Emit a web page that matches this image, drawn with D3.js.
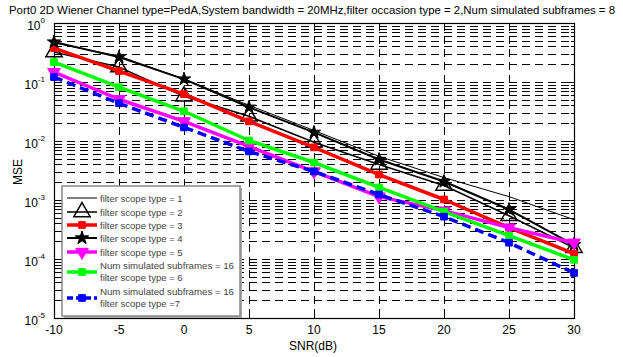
<!DOCTYPE html>
<html lang="en">
<head>
    <meta charset="UTF-8">
    <title>MSE vs SNR</title>
    <script src="https://cdn.jsdelivr.net/npm/d3@7"></script>
    <style>
        body { margin: 0; background: #fff; }
        text { font-family: "Liberation Sans", Arial, sans-serif; }
    </style>
</head>
<body>
<script>
    const snr = [-10, -5, 0, 5, 10, 15, 20, 25, 30]
    const xTicks = [-10, -5, 0, 5, 10, 15, 20, 25, 30]
    const yDecades = [-5, -4, -3, -2, -1, 0]
    const title = 'Port0 2D Wiener Channel type=PedA,System bandwidth = 20MHz,filter occasion type = 2,Num simulated subframes = 8'

    const type1 = [0.46, 0.275, 0.112, 0.0403, 0.0151, 0.0055, 0.0024, 0.00114, 0.000464]
    const type2 = [0.321, 0.179, 0.0574, 0.0262, 0.0095, 0.0040, 0.00176, 0.00054, 0.000155]
    const type3 = [0.376, 0.153, 0.0621, 0.0215, 0.0078, 0.0027, 0.00102, 0.00034, 0.000123]
    const type4 = [0.475, 0.264, 0.112, 0.0373, 0.0140, 0.00486, 0.00206, 0.00069, 0.000174]
    const type5 = [0.147, 0.051, 0.0215, 0.0081, 0.00304, 0.00114, 0.00066, 0.00034, 0.000189]
    const type6 = [0.217, 0.0816, 0.0319, 0.0102, 0.00432, 0.00163, 0.000635, 0.000248, 0.000097]
    const type7 = [0.121, 0.0436, 0.017, 0.00666, 0.00304, 0.00124, 0.000522, 0.000189, 0.000058]

    const series = [
        {name: ['filter scope type = 1'], values: type1, color: '#000', width: 1, dash: null, marker: null},
        {name: ['filter scope type = 2'], values: type2, color: '#000', width: 1.5, dash: null, marker: 'triUp'},
        {name: ['filter scope type = 3'], values: type3, color: '#ff0000', width: 3.5, dash: null, marker: 'square'},
        {name: ['filter scope type = 4'], values: type4, color: '#000', width: 2, dash: null, marker: 'star'},
        {name: ['filter scope type = 5'], values: type5, color: '#ff00ff', width: 3.5, dash: null, marker: 'triDown'},
        {name: ['Num simulated subframes = 16', 'filter scope type = 6'], values: type6, color: '#00ff00', width: 3.5, dash: null, marker: 'square'},
        {name: ['Num simulated subframes = 16', 'filter scope type =7'], values: type7, color: '#0000ff', width: 3.5, dash: '9,5', marker: 'square'}
    ]

    const [width, height] = [623, 357]
    const [pLeft, pRight, pTop, pBottom] = [54, 574, 23, 318]
    const x = d3.scaleLinear().domain([-10, 30]).range([pLeft, pRight])
    const y = d3.scaleLog().domain([1e-5, 1]).range([pBottom, pTop])

    const svg = d3.select('body').append('svg')
        .attr('width', width)
        .attr('height', height)

    // title
    svg.append('text')
        .attr('x', 312).attr('y', 14)
        .attr('text-anchor', 'middle')
        .attr('font-size', 11)
        .attr('textLength', 606)
        .attr('lengthAdjust', 'spacingAndGlyphs')
        .text(title)

    // grid
    const grid = svg.append('g').attr('stroke', '#000').attr('stroke-width', 1)
        .attr('stroke-dasharray', '8,5').attr('fill', 'none')
    const yGridVals = []
    yDecades.slice(0, -1).forEach(k => {
        for (let m = 1; m <= 9; m++) {
            if (m === 1 && k === -5) continue
            yGridVals.push(m * Math.pow(10, k))
        }
    })
    grid.selectAll('line.hg').data(yGridVals).enter().append('line')
        .attr('class', 'hg')
        .attr('x1', pLeft).attr('x2', pRight)
        .attr('y1', d => Math.round(y(d)) + 0.5).attr('y2', d => Math.round(y(d)) + 0.5)
    grid.selectAll('line.vg').data(xTicks.slice(1, -1)).enter().append('line')
        .attr('class', 'vg')
        .attr('x1', d => Math.round(x(d)) + 0.5).attr('x2', d => Math.round(x(d)) + 0.5)
        .attr('y1', pTop).attr('y2', pBottom)

    // ticks
    const ticks = svg.append('g').attr('stroke', '#000').attr('stroke-width', 1)
    xTicks.forEach(t => {
        const px = Math.round(x(t)) + 0.5
        ticks.append('line').attr('x1', px).attr('x2', px).attr('y1', pBottom).attr('y2', pBottom - 5)
        ticks.append('line').attr('x1', px).attr('x2', px).attr('y1', pTop).attr('y2', pTop + 5)
    })
    yGridVals.concat([1e-5, 1]).forEach(v => {
        const py = Math.round(y(v)) + 0.5
        const major = Math.abs(Math.log10(v) - Math.round(Math.log10(v))) < 1e-9
        const len = major ? 5 : 3
        ticks.append('line').attr('x1', pLeft).attr('x2', pLeft + len).attr('y1', py).attr('y2', py)
        ticks.append('line').attr('x1', pRight).attr('x2', pRight - len).attr('y1', py).attr('y2', py)
    })

    // box
    svg.append('rect')
        .attr('x', pLeft + 0.5).attr('y', pTop + 0.5)
        .attr('width', pRight - pLeft).attr('height', pBottom - pTop)
        .attr('fill', 'none').attr('stroke', '#000').attr('stroke-width', 1.2)

    // tick labels
    svg.append('g').selectAll('text').data(xTicks).enter().append('text')
        .attr('x', d => x(d)).attr('y', 334)
        .attr('text-anchor', 'middle')
        .attr('font-size', 12)
        .text(d => d)

    const yl = svg.append('g').selectAll('text').data(yDecades).enter().append('text')
        .attr('x', 45).attr('y', d => y(Math.pow(10, d)) + 7)
        .attr('text-anchor', 'end')
        .attr('font-size', 12)
    yl.append('tspan').text('10')
    yl.append('tspan').attr('font-size', 8).attr('dy', -7).text(d => d)

    svg.append('text')
        .attr('x', 313).attr('y', 350)
        .attr('text-anchor', 'middle')
        .attr('font-size', 12)
        .text('SNR(dB)')
    svg.append('text')
        .attr('transform', 'translate(22,172) rotate(-90)')
        .attr('text-anchor', 'middle')
        .attr('font-size', 12)
        .text('MSE')

    // markers
    const drawMarker = (g, type, color, cx, cy) => {
        if (type === 'triUp') {
            g.append('path').attr('d', d3.symbol(d3.symbolTriangle, 115)())
                .attr('transform', `translate(${cx},${cy})`)
                .attr('fill', 'none').attr('stroke', color).attr('stroke-width', 1.5)
        } else if (type === 'triDown') {
            g.append('path').attr('d', d3.symbol(d3.symbolTriangle, 70)())
                .attr('transform', `translate(${cx},${cy}) rotate(180)`)
                .attr('fill', color).attr('stroke', color)
        } else if (type === 'star') {
            g.append('path').attr('d', d3.symbol(d3.symbolStar, 55)())
                .attr('transform', `translate(${cx},${cy})`)
                .attr('fill', color).attr('stroke', color)
        } else if (type === 'square') {
            g.append('path').attr('d', d3.symbol(d3.symbolSquare, 45)())
                .attr('transform', `translate(${cx},${cy})`)
                .attr('fill', color).attr('stroke', color)
        }
    }

    const line = d3.line().x(d => x(d[0])).y(d => y(d[1]))
    series.forEach(s => {
        const g = svg.append('g')
        const pts = snr.map((v, i) => [v, s.values[i]])
        g.append('path')
            .attr('d', line(pts))
            .attr('fill', 'none')
            .attr('stroke', s.color)
            .attr('stroke-width', s.width)
            .attr('stroke-dasharray', s.dash)
            .attr('stroke-linejoin', 'round')
        if (s.marker) pts.forEach(p => drawMarker(g, s.marker, s.color, x(p[0]), y(p[1])))
    })

    // legend
    const [lx, ly, lw, lh] = [62, 186, 178, 130]
    const lg = svg.append('g')
    lg.append('rect').attr('x', lx + 2).attr('y', ly + 2).attr('width', lw).attr('height', lh)
        .attr('fill', '#aaa')
    lg.append('rect').attr('x', lx).attr('y', ly).attr('width', lw).attr('height', lh)
        .attr('fill', '#fff').attr('stroke', '#888').attr('stroke-width', 1.5)
    const rowY = [198, 212, 225, 238, 252, 272, 298]
    series.forEach((s, i) => {
        const cy = rowY[i]
        lg.append('line').attr('x1', 67).attr('x2', 97).attr('y1', cy).attr('y2', cy)
            .attr('stroke', s.color).attr('stroke-width', s.width)
            .attr('stroke-dasharray', s.dash ? '6,3' : null)
        if (s.marker) drawMarker(lg, s.marker, s.color, 82, cy)
        const t = lg.append('text').attr('x', 100).attr('font-size', 9.5).attr('fill', '#444')
        if (s.name.length === 1) {
            t.attr('y', cy + 3.5).text(s.name[0])
        } else {
            t.attr('y', cy - 3)
            s.name.forEach((n, j) => {
                const ts = t.append('tspan').attr('x', 100).attr('dy', j === 0 ? 0 : 12).text(n)
                if (n.length > 25) ts.attr('textLength', 134).attr('lengthAdjust', 'spacingAndGlyphs')
            })
        }
    })
</script>
</body>
</html>
